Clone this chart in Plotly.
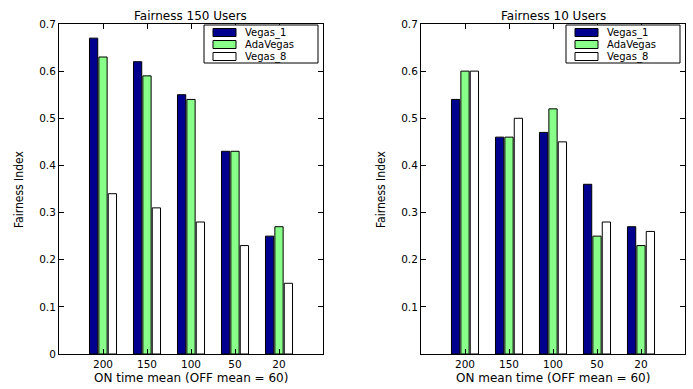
import plotly.graph_objects as go

categories = ["200", "150", "100", "50", "20"]
series_names = ["Vegas_1", "AdaVegas", "Vegas_8"]
colors = ["#00008F", "#88FF88", "#FFFFFF"]

left_vegas1 = [0.67, 0.62, 0.55, 0.43, 0.25]
left_adavegas = [0.63, 0.59, 0.54, 0.43, 0.27]
left_vegas8 = [0.34, 0.31, 0.28, 0.23, 0.15]

right_vegas1 = [0.54, 0.46, 0.47, 0.36, 0.27]
right_adavegas = [0.60, 0.46, 0.52, 0.25, 0.23]
right_vegas8 = [0.60, 0.50, 0.45, 0.28, 0.26]

left_title = "Fairness 150 Users"
right_title = "Fairness 10 Users"
left_xlabel = "ON time mean (OFF mean = 60)"
right_xlabel = "ON mean time (OFF mean = 60)"
ylabel = "Fairness Index"

xpos = [1, 2, 3, 4, 5]

FONT = "DejaVu Sans, Liberation Sans, Arial, sans-serif"
NARROW = "Liberation Sans Narrow, DejaVu Sans Condensed, Arial Narrow, sans-serif"
W, H = 693, 389

fig = go.Figure()
for vals, name, col in zip([left_vegas1, left_adavegas, left_vegas8], series_names, colors):
    fig.add_trace(go.Bar(x=xpos, y=vals, name=name, showlegend=False,
                         marker=dict(color=col, line=dict(color="black", width=1)),
                         xaxis="x", yaxis="y"))
for vals, name, col in zip([right_vegas1, right_adavegas, right_vegas8], series_names, colors):
    fig.add_trace(go.Bar(x=xpos, y=vals, name=name, showlegend=False,
                         marker=dict(color=col, line=dict(color="black", width=1)),
                         xaxis="x2", yaxis="y2"))

axcommon = dict(showline=True, linecolor="black", linewidth=1, mirror="ticks", ticks="inside",
                ticklen=5, tickcolor="black", showgrid=False, zeroline=False,
                tickfont=dict(family=FONT, size=10.5, color="black"))

ytop, ybot = 24, 354
ydom = [1 - ybot / H, 1 - ytop / H]
panels = [(59, 323), (421, 685)]

fig.update_layout(
    width=W, height=H,
    margin=dict(l=0, r=0, t=0, b=0, autoexpand=False),
    paper_bgcolor="white", plot_bgcolor="white",
    barmode="group", bargap=0.36, bargroupgap=0.12,
    font=dict(family=FONT, size=11, color="black"),
    showlegend=False,
    xaxis=dict(domain=[panels[0][0] / W, panels[0][1] / W], range=[0, 6], tickvals=xpos,
               ticktext=categories, anchor="y", **axcommon),
    yaxis=dict(domain=ydom, range=[0, 0.7], tickvals=[0, 0.1, 0.2, 0.3, 0.4, 0.5, 0.6, 0.7],
               ticktext=["0", "0.1", "0.2", "0.3", "0.4", "0.5", "0.6", "0.7"], anchor="x", **axcommon),
    xaxis2=dict(domain=[panels[1][0] / W, panels[1][1] / W], range=[0, 6], tickvals=xpos,
                ticktext=categories, anchor="y2", **axcommon),
    yaxis2=dict(domain=ydom, range=[0.0, 0.7], tickvals=[0.1, 0.2, 0.3, 0.4, 0.5, 0.6, 0.7],
                ticktext=["0.1", "0.2", "0.3", "0.4", "0.5", "0.6", "0.7"], anchor="x2", **axcommon),
)

annotations = []
shapes = []
titles = [left_title, right_title]
xlabels = [left_xlabel, right_xlabel]
for i, (x0, x1) in enumerate(panels):
    cx = (x0 + x1) / 2
    annotations.append(dict(text=titles[i], x=cx / W, y=1 - 15.5 / H, xref="paper", yref="paper",
                            xanchor="center", yanchor="middle", showarrow=False,
                            font=dict(family=FONT, size=12)))
    annotations.append(dict(text=xlabels[i], x=cx / W, y=1 - 377.5 / H, xref="paper", yref="paper",
                            xanchor="center", yanchor="middle", showarrow=False, borderpad=0,
                            font=dict(family=FONT, size=12)))
    annotations.append(dict(text=ylabel, x=(x0 - 40) / W, y=1 - 190 / H, xref="paper", yref="paper",
                            xanchor="center", yanchor="middle", showarrow=False, textangle=-90,
                            font=dict(family=NARROW, size=12)))
    # legend box
    bx0, bx1 = x0 + 145, x0 + 259
    by0, by1 = 25, 63
    shapes.append(dict(type="rect", xref="paper", yref="paper", x0=bx0 / W, x1=bx1 / W,
                       y0=1 - by1 / H, y1=1 - by0 / H, line=dict(color="black", width=1),
                       fillcolor="white", layer="above"))
    for j, (name, col) in enumerate(zip(series_names, colors)):
        cy = 32.5 + j * 12
        shapes.append(dict(type="rect", xref="paper", yref="paper", x0=(x0 + 154) / W, x1=(x0 + 177) / W,
                           y0=1 - (cy + 4) / H, y1=1 - (cy - 4) / H, line=dict(color="black", width=1),
                           fillcolor=col, layer="above"))
        annotations.append(dict(text=name, x=(x0 + 185) / W, y=1 - cy / H, xref="paper", yref="paper",
                                xanchor="left", yanchor="middle", showarrow=False, borderpad=0,
                                font=dict(family=FONT, size=10)))

fig.update_layout(annotations=annotations, shapes=shapes)

fig.write_html("out.html", config={"displayModeBar": False},
               post_script="document.body.style.margin='0';document.body.style.padding='0';")
